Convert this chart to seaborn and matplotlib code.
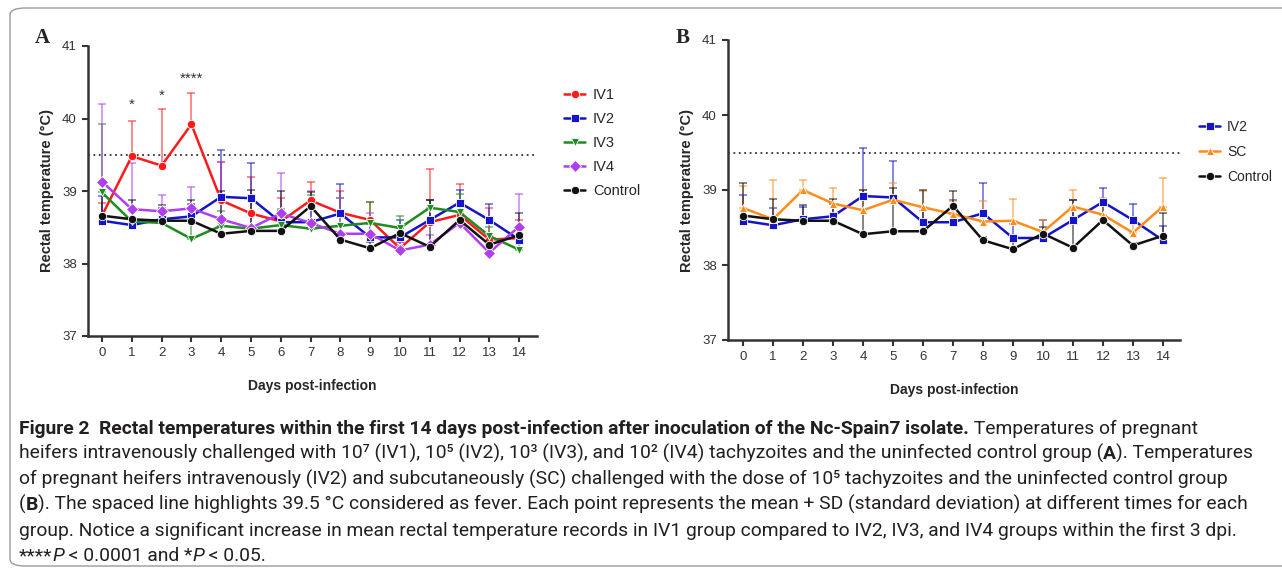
import numpy as np
import pandas as pd
import matplotlib
matplotlib.use('Agg')
import matplotlib.pyplot as plt
import seaborn as sns
from matplotlib.patches import FancyBboxPatch

# Days post-infection
days = list(range(15))

# Panel A: mean rectal temperature (°C) and SD per group
iv1_mean = [38.66, 39.48, 39.35, 39.92, 38.87, 38.69, 38.58, 38.87, 38.70, 38.60, 38.21, 38.57, 38.67, 38.33, 38.35]
iv1_sd = [0.18, 0.48, 0.78, 0.43, 0.53, 0.51, 0.32, 0.25, 0.30, 0.25, 0.09, 0.74, 0.43, 0.43, 0.25]
iv2_mean = [38.59, 38.53, 38.61, 38.65, 38.92, 38.90, 38.57, 38.57, 38.69, 38.36, 38.36, 38.60, 38.84, 38.60, 38.33]
iv2_sd = [0.34, 0.23, 0.16, 0.17, 0.64, 0.49, 0.15, 0.30, 0.41, 0.19, 0.24, 0.27, 0.18, 0.22, 0.19]
iv3_mean = [38.98, 38.58, 38.56, 38.34, 38.52, 38.48, 38.53, 38.48, 38.52, 38.56, 38.49, 38.77, 38.71, 38.38, 38.19]
iv3_sd = [0.95, 0.17, 0.14, 0.26, 0.20, 0.42, 0.22, 0.47, 0.38, 0.29, 0.17, 0.11, 0.25, 0.12, 0.11]
iv4_mean = [39.13, 38.75, 38.72, 38.76, 38.61, 38.49, 38.69, 38.56, 38.41, 38.41, 38.18, 38.26, 38.56, 38.15, 38.51]
iv4_sd = [1.07, 0.63, 0.23, 0.29, 0.79, 0.46, 0.56, 0.44, 0.49, 0.28, 0.12, 0.14, 0.14, 0.25, 0.45]
control_mean = [38.66, 38.61, 38.59, 38.59, 38.41, 38.45, 38.45, 38.79, 38.33, 38.21, 38.42, 38.23, 38.60, 38.26, 38.39]
control_sd = [0.44, 0.27, 0.21, 0.29, 0.59, 0.57, 0.55, 0.20, 0.05, 0.09, 0.09, 0.64, 0.25, 0.04, 0.31]
# Panel B: subcutaneous group
sc_mean = [38.76, 38.61, 39.00, 38.82, 38.73, 38.87, 38.77, 38.68, 38.58, 38.59, 38.44, 38.78, 38.67, 38.43, 38.78]
sc_sd = [0.29, 0.52, 0.13, 0.20, 0.27, 0.23, 0.21, 0.17, 0.27, 0.29, 0.16, 0.22, 0.23, 0.17, 0.38]

fever = 39.5
star_days = [1, 2, 3]
star_labels = ['*', '*', '****']
star_y = [40.19, 40.31, 40.55]

groups_a = ['IV1', 'IV2', 'IV3', 'IV4', 'Control']
groups_b = ['IV2', 'SC', 'Control']

colors = {'IV1': '#ff1a1a', 'IV2': '#1414c8', 'IV3': '#1e8c1e', 'IV4': '#b03ef0',
          'Control': '#111111', 'SC': '#ff8c1a'}
markers = {'IV1': 'o', 'IV2': 's', 'IV3': 'v', 'IV4': 'D', 'Control': 'o', 'SC': '^'}

means = {'IV1': iv1_mean, 'IV2': iv2_mean, 'IV3': iv3_mean, 'IV4': iv4_mean,
         'Control': control_mean, 'SC': sc_mean}
sds = {'IV1': iv1_sd, 'IV2': iv2_sd, 'IV3': iv3_sd, 'IV4': iv4_sd,
       'Control': control_sd, 'SC': sc_sd}


def long_df(groups):
    rows = []
    for g in groups:
        for d, m, s in zip(days, means[g], sds[g]):
            rows.append({'day': d, 'temp': m, 'sd': s, 'group': g})
    return pd.DataFrame(rows)


sns.set_style('ticks')
plt.rcParams['font.family'] = ['Liberation Sans', 'DejaVu Sans']
dark = '#333333'

W, H = 1282, 571
fig = plt.figure(figsize=(W / 100, H / 100), dpi=100)

# rounded border around the whole figure
fig.patches.append(FancyBboxPatch((10 / W, 5 / H), 1.2, (H - 13) / H,
                                  boxstyle='round,pad=0,rounding_size=0.012',
                                  transform=fig.transFigure, fc='none',
                                  ec='#9a9a9a', lw=1.0))

axA = fig.add_axes([88 / W, 1 - 336 / H, 449 / W, 290 / H])
axB = fig.add_axes([728 / W, 1 - 340 / H, 452 / W, 300 / H])


def draw_panel(ax, groups, xlim, legend_anchor, legend_size, spacing):
    df = long_df(groups)
    for g in groups:
        sub = df[df['group'] == g]
        ax.errorbar(sub['day'], sub['temp'], yerr=[np.zeros(len(sub)), sub['sd']],
                    fmt='none', ecolor=colors[g], alpha=0.55, elinewidth=1.3,
                    capsize=3, capthick=1.3, zorder=1)
    sns.lineplot(data=df, x='day', y='temp', hue='group', style='group',
                 hue_order=groups, style_order=groups, palette=colors,
                 markers=markers, dashes=False, linewidth=1.8, markersize=6,
                 markeredgewidth=0.6, ax=ax, zorder=3)
    ax.axhline(fever, color=dark, ls=(0, (1, 2)), lw=1.3, zorder=0)
    ax.set_ylim(37, 41)
    ax.set_xlim(*xlim)
    ax.set_xticks(days)
    ax.set_yticks([37, 38, 39, 40, 41])
    ax.set_xlabel('Days post-infection', fontsize=10, fontweight='bold', labelpad=14)
    ax.set_ylabel('Rectal temperature (°C)', fontsize=10.5, fontweight='bold', labelpad=6)
    for side in ['top', 'right']:
        ax.spines[side].set_visible(False)
    for side in ['left', 'bottom']:
        ax.spines[side].set_linewidth(1.8)
        ax.spines[side].set_color(dark)
    ax.tick_params(axis='both', direction='out', length=4, width=1.5, color=dark,
                   labelsize=9.5, labelcolor=dark, pad=4)
    sns.move_legend(ax, loc='upper left', bbox_to_anchor=legend_anchor, frameon=False,
                    title=None, fontsize=legend_size, labelspacing=spacing, handlelength=1.5,
                    handletextpad=0.5)


draw_panel(axA, groups_a, (-0.47, 14.6), (1.03, 0.90), 10.5, 0.68)
draw_panel(axB, groups_b, (-0.5, 14.57), (1.015, 0.775), 10, 0.78)

for d, lab, y in zip(star_days, star_labels, star_y):
    axA.text(d, y, lab, ha='center', va='center', fontsize=11, color=dark)

fig.text(35 / W, 1 - 38 / H, 'A', fontsize=15, fontweight='bold',
         family=['Liberation Serif', 'DejaVu Serif'], ha='left', va='center')
fig.text(676 / W, 1 - 38 / H, 'B', fontsize=15, fontweight='bold',
         family=['Liberation Serif', 'DejaVu Serif'], ha='left', va='center')

# caption
cap_ax = fig.add_axes([0, 0, 1, 1])
cap_ax.axis('off')
cap_family = ['Roboto', 'Liberation Sans', 'DejaVu Sans']
cap_color = '#231f20'
R, B_, I_ = ('normal', 'normal'), ('bold', 'normal'), ('normal', 'italic')
caption_lines = [
    [('Figure 2  Rectal temperatures within the first 14 days post-infection after inoculation of the Nc-Spain7 isolate.', B_),
     (' Temperatures of pregnant', R)],
    [('heifers intravenously challenged with 10⁷ (IV1), 10⁵ (IV2), 10³ (IV3), and 10² (IV4) tachyzoites and the uninfected control group (', R),
     ('A', B_), ('). Temperatures', R)],
    [('of pregnant heifers intravenously (IV2) and subcutaneously (SC) challenged with the dose of 10⁵ tachyzoites and the uninfected control group', R)],
    [('(', R), ('B', B_), ('). The spaced line highlights 39.5 °C considered as fever. Each point represents the mean + SD (standard deviation) at different times for each', R)],
    [('group. Notice a significant increase in mean rectal temperature records in IV1 group compared to IV2, IV3, and IV4 groups within the first 3 dpi.', R)],
    [('****', R), ('P', I_), (' < 0.0001 and *', R), ('P', I_), (' < 0.05.', R)],
]
baselines = [434, 459, 485, 510, 536, 561]
cap_texts = []
line_ends = []
for segs, yb in zip(caption_lines, baselines):
    prev = None
    for txt, (wt, st) in segs:
        if prev is None:
            prev = cap_ax.text(19 / W, 1 - (yb + 4) / H, txt, transform=fig.transFigure,
                               fontsize=12, fontweight=wt, fontstyle=st, family=cap_family,
                               color=cap_color, ha='left', va='bottom')
        else:
            prev = cap_ax.annotate(txt, xy=(1, 0), xycoords=prev, fontsize=12,
                                   fontweight=wt, fontstyle=st, family=cap_family,
                                   color=cap_color, ha='left', va='bottom')
        cap_texts.append(prev)
    line_ends.append(prev)

# fit caption size to the width of the closing line of the paragraph
fig.canvas.draw()
renderer = fig.canvas.get_renderer()
right = line_ends[4].get_window_extent(renderer).x1
scale = (1232 - 19) / (right - 19)
for t in cap_texts:
    t.set_fontsize(12 * scale)

fig.savefig('out.png', dpi=100)
